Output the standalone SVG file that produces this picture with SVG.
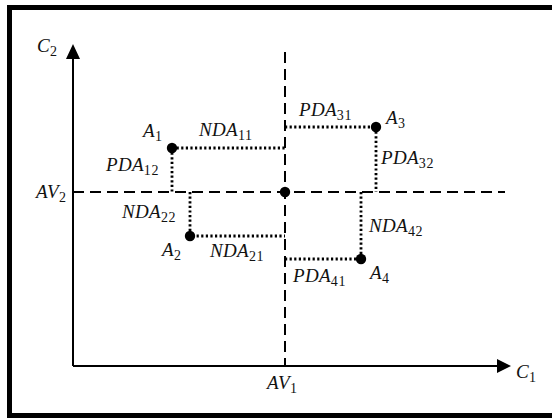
<svg xmlns="http://www.w3.org/2000/svg" width="552" height="420" viewBox="0 0 552 420">
<style>
text{font-family:"Liberation Serif","DejaVu Serif",serif;font-style:italic;font-size:19px;fill:#111;letter-spacing:0.3px}
.s{font-style:normal;font-size:14px;letter-spacing:0.6px}
.axis{stroke:#000;stroke-width:2;fill:none}
.dash{stroke:#000;stroke-width:2;fill:none;stroke-dasharray:11,6}
.dot{stroke:#000;stroke-width:2.8;fill:none;stroke-dasharray:2.2,2.4}
.pt{fill:#000}
</style>
<rect x="0" y="0" width="552" height="420" fill="#fff"/>
<rect x="9.5" y="7.5" width="560" height="408" fill="none" stroke="#000" stroke-width="5"/>
<g id="axes">
<line class="axis" x1="73" y1="56" x2="73" y2="366"/>
<line class="axis" x1="73" y1="366" x2="500" y2="366"/>
<polygon points="73,44 66,59 80,59" fill="#000"/>
<polygon points="511,366 497,359 497,373" fill="#000"/>
<line class="dash" x1="285" y1="52" x2="285" y2="366"/>
<line class="dash" x1="73" y1="192" x2="505" y2="192"/>
</g>
<g id="connectors">
<polyline class="dot" points="172,148 285,148"/>
<polyline class="dot" points="172,148 172,192"/>
<polyline class="dot" points="190,192 190,236 285,236"/>
<polyline class="dot" points="285,127 376,127"/>
<polyline class="dot" points="376,127 376,192"/>
<polyline class="dot" points="361,192 361,259"/>
<polyline class="dot" points="285,259 361,259"/>
</g>
<g id="origin"><circle class="pt" cx="285" cy="192" r="5.2"/></g>
<g id="A1"><circle class="pt" cx="172" cy="148" r="5.2"/><text x="143" y="137">A<tspan class="s" dy="4">1</tspan></text></g>
<g id="A2"><circle class="pt" cx="190" cy="236" r="5.2"/><text x="162" y="256">A<tspan class="s" dy="4">2</tspan></text></g>
<g id="A3"><circle class="pt" cx="376" cy="127" r="5.2"/><text x="386" y="124">A<tspan class="s" dy="4">3</tspan></text></g>
<g id="A4"><circle class="pt" cx="361" cy="259" r="5.2"/><text x="370" y="279">A<tspan class="s" dy="4">4</tspan></text></g>
<g id="labels">
<text x="37" y="52">C<tspan class="s" dy="4">2</tspan></text>
<text x="516" y="378">C<tspan class="s" dy="4">1</tspan></text>
<text x="36" y="198">AV<tspan class="s" dy="4">2</tspan></text>
<text x="267" y="389">AV<tspan class="s" dy="4">1</tspan></text>
<text x="199" y="136">NDA<tspan class="s" dy="4">11</tspan></text>
<text x="106" y="171">PDA<tspan class="s" dy="4">12</tspan></text>
<text x="122" y="218">NDA<tspan class="s" dy="4">22</tspan></text>
<text x="210" y="257">NDA<tspan class="s" dy="4">21</tspan></text>
<text x="299" y="116">PDA<tspan class="s" dy="4">31</tspan></text>
<text x="381" y="164">PDA<tspan class="s" dy="4">32</tspan></text>
<text x="369" y="232">NDA<tspan class="s" dy="4">42</tspan></text>
<text x="293" y="282">PDA<tspan class="s" dy="4">41</tspan></text>
</g>
</svg>
